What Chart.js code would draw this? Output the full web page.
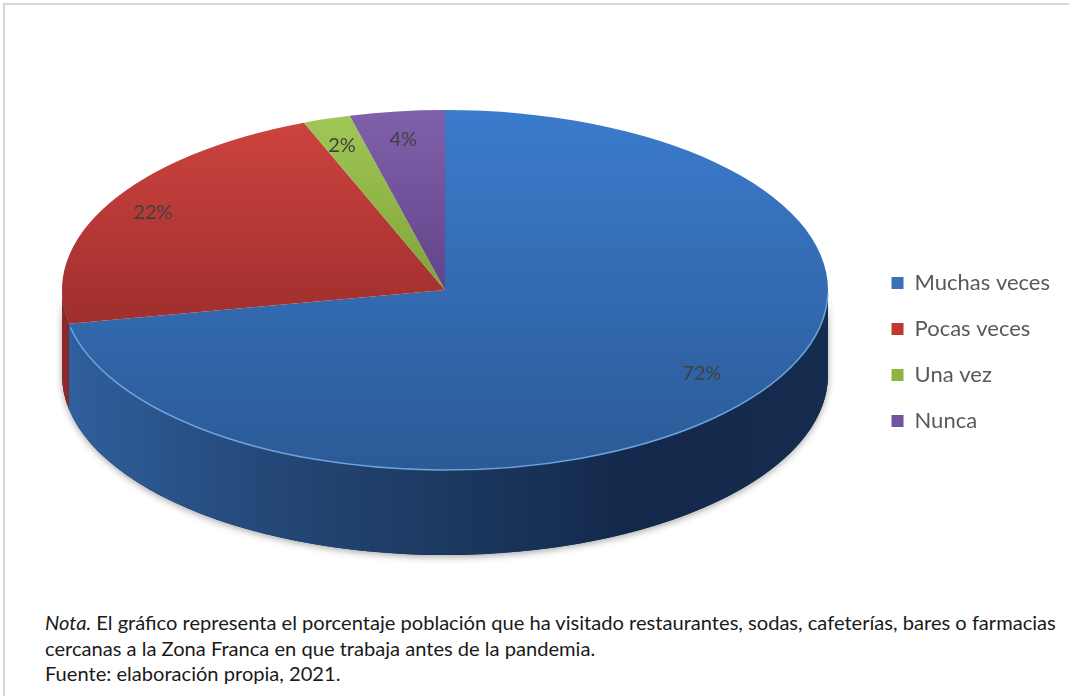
<!DOCTYPE html>
<html>
<head>
<meta charset="utf-8">
<script src="https://cdn.jsdelivr.net/npm/chart.js@4.4.0/dist/chart.umd.min.js"></script>
<style>
    body { margin: 0; background: #fff; }
    #pagina { position: relative; width: 1069px; height: 696px; overflow: hidden; background: #fff; }
    #marco { position: absolute; left: 3px; top: 3px; right: -5px; bottom: -5px; border-top: 2px solid #d6d6d6; border-left: 2px solid #d6d6d6; }
    #myChart { position: absolute; left: 0; top: 0; }
    #nota { position: absolute; left: 45px; top: 610px; font-family: Lato, sans-serif; font-size: 20.1px; line-height: 25.5px; color: #1a1a1a; white-space: nowrap; }
</style>
</head>
<body>
<div id="pagina">
    <div id="marco"></div>
    <canvas id="myChart" width="1069" height="600"></canvas>
    <div id="nota"><i>Nota.</i> El gráfico representa el porcentaje población que ha visitado restaurantes, sodas, cafeterías, bares o farmacias<br>cercanas a la Zona Franca en que trabaja antes de la pandemia.<br>Fuente: elaboración propia, 2021.</div>
</div>

<script>
// dados
var categorias = ['Muchas veces', 'Pocas veces', 'Una vez', 'Nunca']
var valores = [72, 22, 2, 4]

// cores: topo (claro -> escuro), lateral e legenda
var coresTopo = [
    ['#3b7bcc', '#2b5a96'],
    ['#cf4440', '#7e2020'],
    ['#a2c858', '#5a8018'],
    ['#8060aa', '#46286a']
]
var coresLado = [
    ['#30609e', '#25497a', '#1c3960', '#13284a', '#162c4e'],
    ['#8a2a28', '#6e2020', '#5a1a1a', '#481414', '#481414'],
    ['#6e8f2e', '#5a7826', '#4a6420', '#3c521a', '#3c521a'],
    ['#5a3f80', '#4a3468', '#3c2a56', '#302244', '#302244']
]
var coresLegenda = ['#3a70b8', '#c0392f', '#8db43e', '#7153a0']

function gradienteTopo(context) {
    let chart = context.chart
    let area = chart.chartArea
    let i = context.dataIndex
    if (!area) return coresTopo[i][0]
    let meio = (area.top + area.bottom) / 2
    let r = Math.min(area.right - area.left, area.bottom - area.top) / 2
    let g = chart.ctx.createLinearGradient(0, meio - r, 0, meio + r)
    g.addColorStop(0, coresTopo[i][0])
    g.addColorStop(1, coresTopo[i][1])
    return g
}

// pizza "3D": achata o círculo numa elipse e desenha a parede da frente
var pizza3d = {
    id: 'pizza3d',
    beforeDatasetsDraw(chart, args, opts) {
        let ctx = chart.ctx
        let arcs = chart.getDatasetMeta(0).data
        let { cx, cy, rx, ry, altura } = opts

        let parede = (a0, a1) => {
            ctx.beginPath()
            ctx.ellipse(cx, cy, rx, ry, 0, a0, a1)
            ctx.ellipse(cx, cy + altura, rx, ry, 0, a1, a0, true)
            ctx.closePath()
        }

        // sombra por baixo da parede
        ctx.save()
        ctx.shadowColor = 'rgba(0,0,0,0.35)'
        ctx.shadowBlur = 7
        ctx.shadowOffsetY = 2
        ctx.fillStyle = coresLado[0][3]
        parede(0, Math.PI)
        ctx.fill()
        ctx.restore()

        ctx.save()
        arcs.forEach((arc, i) => {
            // só a metade da frente aparece (0..PI, e a volta 2PI..3PI)
            let faixas = [[0, Math.PI], [2 * Math.PI, 3 * Math.PI]]
            faixas.forEach(f => {
                let a0 = Math.max(arc.startAngle, f[0])
                let a1 = Math.min(arc.endAngle, f[1])
                if (a1 <= a0) return
                let g = ctx.createLinearGradient(cx - rx, 0, cx + rx, 0)
                let stops = coresLado[i]
                stops.forEach((c, k) => g.addColorStop(k / (stops.length - 1), c))
                ctx.fillStyle = g
                parede(a0, a1)
                ctx.fill()
            })
        })
        ctx.restore()

        // topo: o chart desenha o círculo, aqui vira elipse
        let a = arcs[0]
        ctx.save()
        ctx.translate(cx, cy)
        ctx.scale(rx / a.outerRadius, ry / a.outerRadius)
        ctx.translate(-a.x, -a.y)
    },
    afterDatasetsDraw(chart, args, opts) {
        let ctx = chart.ctx
        ctx.restore()
        let arcs = chart.getDatasetMeta(0).data
        let { cx, cy, rx, ry } = opts

        // brilho na borda da frente
        ctx.save()
        ctx.strokeStyle = 'rgba(120,175,235,0.85)'
        ctx.lineWidth = 1.5
        ctx.beginPath()
        ctx.ellipse(cx, cy, rx, ry, 0, 0.02, Math.min(arcs[0].endAngle, Math.PI) - 0.02)
        ctx.stroke()
        ctx.restore()

        // rótulos de porcentagem
        ctx.save()
        ctx.font = '20px Lato'
        ctx.fillStyle = '#404040'
        ctx.textAlign = 'center'
        ctx.textBaseline = 'middle'
        arcs.forEach((arc, i) => {
            let meio = (arc.startAngle + arc.endAngle) / 2
            let x = cx + Math.cos(meio) * rx * 0.87
            let y = cy + Math.sin(meio) * ry * 0.8 - 8
            ctx.fillText(valores[i] + '%', x, y)
        })
        ctx.restore()
    }
}

var ctx = document.getElementById('myChart').getContext('2d')

var myChart = new Chart(ctx, {
    type: 'pie',
    data: {
        labels: categorias,
        datasets: [{
            data: valores,
            backgroundColor: gradienteTopo,
            borderWidth: 0
        }]
    },
    options: {
        responsive: false,
        animation: false,
        devicePixelRatio: 1,
        events: [],
        layout: {
            padding: { top: 104, right: 9, bottom: 0, left: 0 }
        },
        plugins: {
            tooltip: { enabled: false },
            legend: {
                position: 'right',
                labels: {
                    boxWidth: 12,
                    boxHeight: 12,
                    padding: 24,
                    color: '#595959',
                    font: { family: 'Lato', size: 22 },
                    generateLabels: chart => categorias.map((texto, i) => ({
                        text: texto,
                        fillStyle: coresLegenda[i],
                        strokeStyle: coresLegenda[i],
                        lineWidth: 0,
                        fontColor: '#595959',
                        hidden: false,
                        index: i
                    }))
                }
            },
            pizza3d: { cx: 445, cy: 290, rx: 383, ry: 180, altura: 85 }
        }
    },
    plugins: [pizza3d]
})
</script>
</body>
</html>
